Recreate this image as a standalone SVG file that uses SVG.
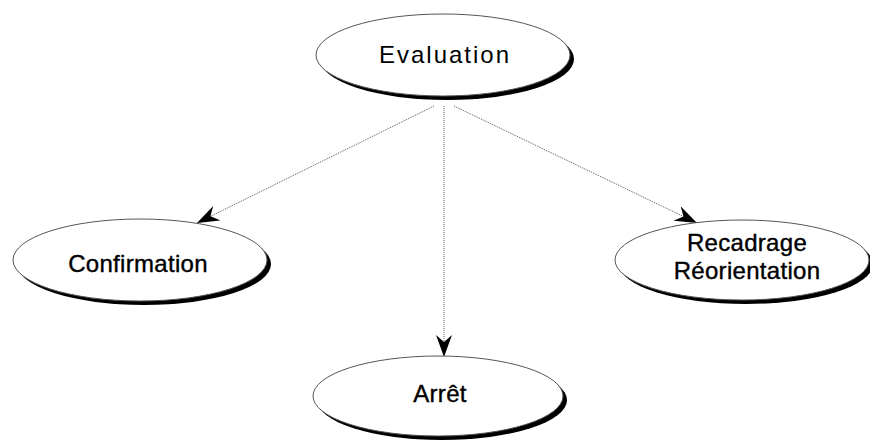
<svg xmlns="http://www.w3.org/2000/svg" width="870" height="446" viewBox="0 0 870 446">
<style>
.shadow{fill:#000}
.node{fill:#fff;stroke:#555;stroke-width:1}
.lbl{font-family:"Liberation Sans",Arial,sans-serif;font-size:24px;letter-spacing:0.3px;fill:#000;stroke:#000;stroke-width:0.4;text-anchor:middle}
.ev{font-size:24px;letter-spacing:2px;stroke:none}
.edge{stroke:#555;stroke-width:1;stroke-dasharray:1,1;fill:none}
</style>
<defs>
<marker id="arr" viewBox="0 0 22 16" refX="22" refY="8" markerWidth="22" markerHeight="16" markerUnits="userSpaceOnUse" orient="auto">
<path d="M0,0 L22,8 L0,16 L7,8 Z" fill="#000"/>
</marker>
</defs>
<rect width="870" height="446" fill="#fff"/>
<g id="connectors">
<line class="edge" x1="434" y1="106" x2="197" y2="223" marker-end="url(#arr)"/>
<line class="edge" x1="444" y1="106" x2="444" y2="357" marker-end="url(#arr)"/>
<line class="edge" x1="454" y1="106" x2="697" y2="223" marker-end="url(#arr)"/>
</g>
<g id="evaluation">
<ellipse class="shadow" cx="447" cy="59" rx="127" ry="41"/>
<ellipse class="node" cx="443" cy="55" rx="127" ry="41"/>
<text class="lbl ev" x="445" y="63">Evaluation</text>
</g>
<g id="confirmation">
<ellipse class="shadow" cx="144" cy="264" rx="127" ry="41"/>
<ellipse class="node" cx="140" cy="260" rx="127" ry="41"/>
<text class="lbl" x="138" y="272">Confirmation</text>
</g>
<g id="recadrage">
<ellipse class="shadow" cx="746" cy="264" rx="127" ry="40"/>
<ellipse class="node" cx="742" cy="260" rx="127" ry="40"/>
<text class="lbl" x="747" y="251">Recadrage</text>
<text class="lbl" x="747" y="279">Réorientation</text>
</g>
<g id="arret">
<ellipse class="shadow" cx="442" cy="400" rx="125" ry="40"/>
<ellipse class="node" cx="438" cy="396" rx="125" ry="40"/>
<text class="lbl" x="440" y="402">Arrêt</text>
</g>
</svg>
